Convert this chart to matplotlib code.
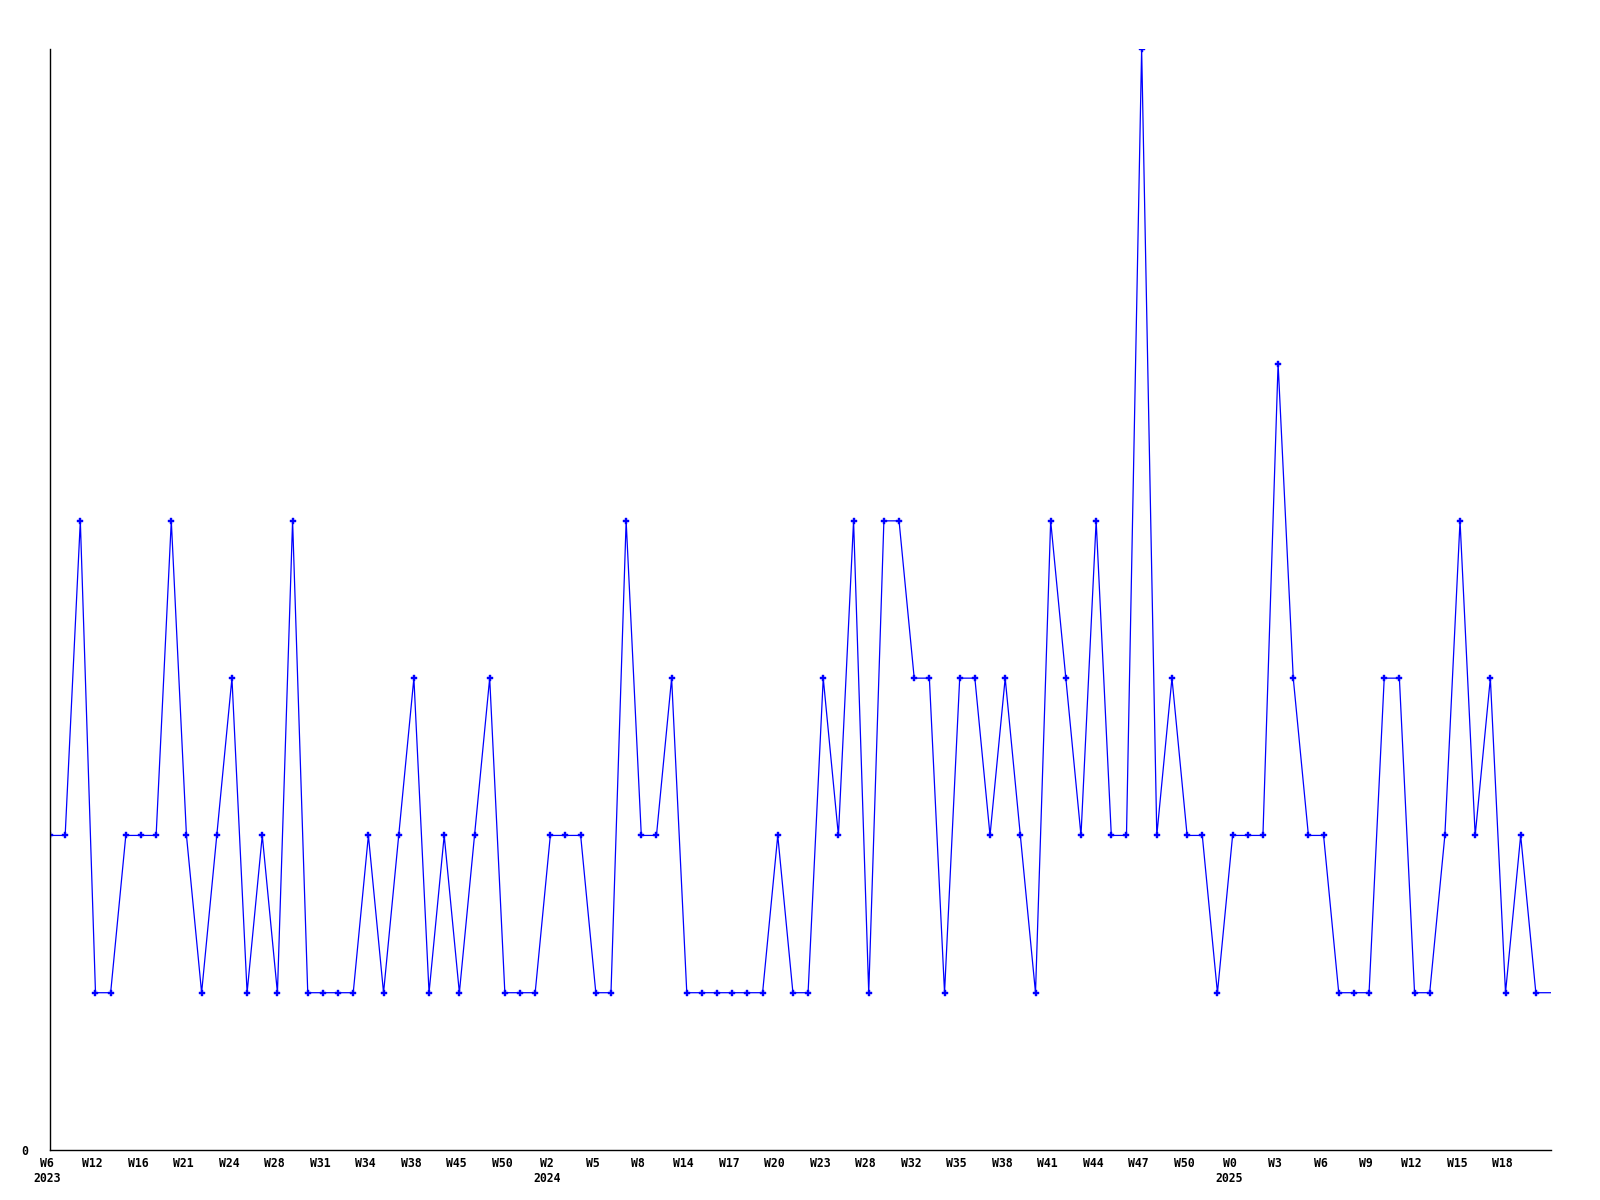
import matplotlib
matplotlib.use("Agg")
import matplotlib.pyplot as plt
import matplotlib.transforms as mtransforms
import numpy as np

values = [2, 2, 4, 1, 1, 2, 2, 2, 4, 2,
          1, 2, 3, 1, 2, 1, 4, 1, 1, 1,
          1, 2, 1, 2, 3, 1, 2, 1, 2, 3,
          1, 1, 1, 2, 2, 2, 1, 1, 4, 2,
          2, 3, 1, 1, 1, 1, 1, 1, 2, 1,
          1, 3, 2, 4, 1, 4, 4, 3, 3, 1,
          3, 3, 2, 3, 2, 1, 4, 3, 2, 4,
          2, 2, 7, 2, 3, 2, 2, 1, 2, 2,
          2, 5, 3, 2, 2, 1, 1, 1, 3, 3,
          1, 1, 2, 4, 2, 3, 1, 2, 1, 1]

week_labels = ["W6", "W12", "W16", "W21", "W24", "W28", "W31", "W34", "W38", "W45",
               "W50", "W2", "W5", "W8", "W14", "W17", "W20", "W23", "W28", "W32",
               "W35", "W38", "W41", "W44", "W47", "W50", "W0", "W3", "W6", "W9",
               "W12", "W15", "W18"]
year_labels = {0: "2023", 11: "2024", 26: "2025"}
label_step = 3

fig = plt.figure(figsize=(16, 12), dpi=100)
ax = fig.add_axes([50/1600, 1 - 1150/1200, 1501/1600, 1101/1200])

x = np.arange(len(values))
ax.plot(x, values, color="#0000FF", lw=0.9, marker="P", ms=4.0,
        markevery=list(range(len(values) - 1)), mec="#0000FF", mfc="#0000FF", mew=0.3)

ax.set_xlim(0, len(values) - 1)
ax.set_ylim(0, 7)

ticks = [i * label_step for i in range(len(week_labels))]
labels = []
for k, w in enumerate(week_labels):
    if k in year_labels:
        labels.append(w + "\n" + year_labels[k])
    else:
        labels.append(w)
ax.set_xticks(ticks)
ax.set_xticklabels(labels, fontfamily="DejaVu Sans Mono", fontweight="bold",
                   fontsize=8.3, linespacing=1.2, va="top")
ax.set_yticks([0])
ax.set_yticklabels(["0"], fontfamily="DejaVu Sans Mono", fontweight="bold", fontsize=8.3)
ax.tick_params(axis="both", length=0)
ax.tick_params(axis="x", pad=5)
ax.tick_params(axis="y", pad=16)

offset = mtransforms.ScaledTranslation(-3/100, 0, fig.dpi_scale_trans)
for lab in ax.get_xticklabels():
    lab.set_transform(lab.get_transform() + offset)

for s in ["top", "right"]:
    ax.spines[s].set_visible(False)
for s in ["left", "bottom"]:
    ax.spines[s].set_color("black")
    ax.spines[s].set_linewidth(1.0)

fig.savefig("out.png", dpi=100, facecolor="white")
